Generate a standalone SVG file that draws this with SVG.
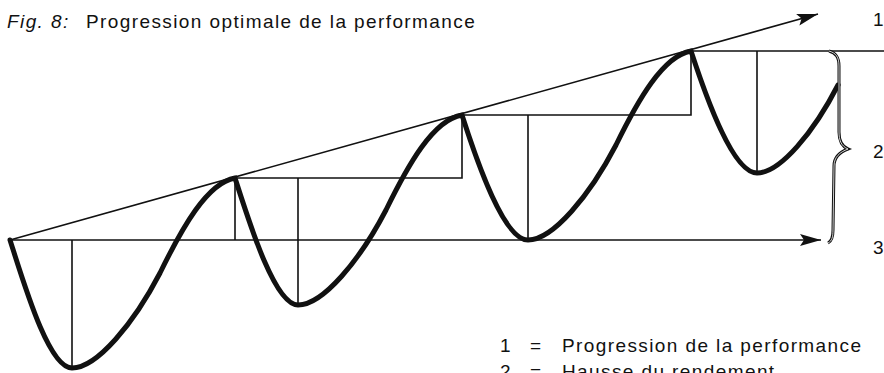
<svg xmlns="http://www.w3.org/2000/svg" width="884" height="373" viewBox="0 0 884 373">
<style>
text{font-family:"Liberation Sans",Arial,Helvetica,sans-serif;font-size:19px;fill:#111;letter-spacing:1.4px}
.it{font-style:italic}
.thin{fill:none;stroke:#111;stroke-width:1.6}
.thick{fill:none;stroke:#111;stroke-width:5;stroke-linejoin:miter;stroke-linecap:round}
</style>
<defs>
<marker id="arr" markerUnits="userSpaceOnUse" markerWidth="22" markerHeight="14" refX="21" refY="6.5" orient="auto" viewBox="0 0 22 14">
<path d="M0,0.5 L21,6.5 L0,12.5 L4,6.5 Z" fill="#111"/>
</marker>
</defs>
<rect width="884" height="373" fill="#fff"/>
<g id="title">
<text x="7" y="28" class="it">Fig. 8:</text>
<text x="86" y="28">Progression optimale de la performance</text>
</g>
<g id="connectors">
<path class="thin" d="M10,240 L818,14" marker-end="url(#arr)"/>
<path class="thin" d="M10,240 L821,240" marker-end="url(#arr)"/>
<path class="thin" d="M235,240 V178 H462 V115 H691 V51 H884"/>
<path class="thin" d="M72,240 V368 M298,178 V305 M528,115 V240 M757,51 V173"/>
</g>
<g id="curve">
<path class="thick" d="M10,240 C25,287 49,368 72,368 C97,368 134,323 160,273 C182,228 207,183 235,178 C250,225 275,305 298,305 C323,305 360,260 386,210 C408,165 433,120 462,115 C477,162 504,240 528,240 C553,240 590,195 616,145 C638,100 663,56 691,51 C706,97 733,173 757,173 C780,173 814,132 838,85"/>
</g>
<g id="brace">
<path d="M828,243 C832,241 833,237 833,230 L834,166 C834,157 840,152 848,149 C841,146 839,140 839,132 L839,66 C839,57 836,53 829,51" fill="none" stroke="#111" stroke-width="3"/>
<path d="M828,243 C832,241 833,237 833,230 L834,166 C834,157 840,152 848,149 C841,146 839,140 839,132 L839,66 C839,57 836,53 829,51" fill="none" stroke="#fff" stroke-width="0.8"/>
</g>
<g id="labels">
<text x="873" y="26">1</text>
<text x="873" y="158">2</text>
<text x="873" y="254">3</text>
</g>
<g id="legend">
<text x="500" y="352">1</text>
<text x="530" y="352">=</text>
<text x="562" y="352">Progression de la performance</text>
<text x="500" y="378">2</text>
<text x="530" y="378">=</text>
<text x="562" y="378">Hausse du rendement</text>
</g>
</svg>
